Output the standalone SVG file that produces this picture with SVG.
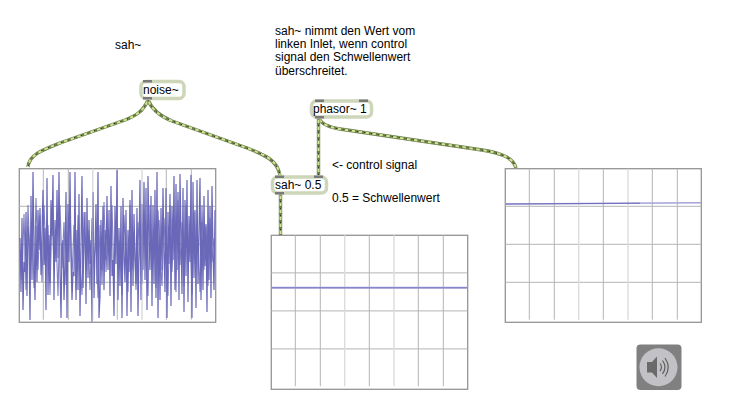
<svg xmlns="http://www.w3.org/2000/svg" width="730" height="409" viewBox="0 0 730 409">
<defs>
<style>
text{font-family:"Liberation Sans",Arial,sans-serif;font-size:12px;fill:#000}
.box{fill:#fff;stroke:#cdd6b8;stroke-width:3.5}
.port{fill:#7a7a7a}
.frame{fill:#fff;stroke:#949494;stroke-width:1.3}
.grid{stroke:#b4b4b4;stroke-width:1;fill:none}
.soft{stroke:#dcdcdc;stroke-width:1.4;fill:none}
.w1{fill:none;stroke:#6d7f4c;stroke-width:3.4}
.w2{fill:none;stroke:#cfe68f;stroke-width:2;stroke-dasharray:5 2}
.w3{fill:none;stroke:#2e3626;stroke-width:1.4;stroke-dasharray:1.5 5.5}
.sig{fill:none;stroke:#6a68b8;stroke-width:1.200}
.sig2{fill:none;stroke:#6a68b8;stroke-width:1.100;opacity:.85}
</style>
<g id="g1">
<path class="grid" d="M0 37.600H196M0 75.600H196M0 113.600H196M24 0V151M49 0V151M98 0V151M147 0V151M172 0V151"/>
<path class="soft" d="M73.400 0V151M122.700 0V151"/>
</g>
</defs>
<rect width="730" height="409" fill="#fff"/>
<g id="scope1">
<rect class="frame" x="19.300" y="168.700" width="196.400" height="153.600"/>
<use href="#g1" x="19.300" y="168.700"/>
<polyline class="sig" points="20,238 21,292 22,218 23,310 24,262 25,272 26,212 27,296 28,226 29,240 30,320 31,196 32,280 33,172 34,252 35,300 36,226 37,282 38,210 39,250 40,208 41,275 42,234 43,190 44,265 45,228 46,310 47,178 48,295 49,235 50,283 51,200 52,236 53,175 54,300 55,220 56,262 57,190 58,258 59,172 60,268 61,318 62,246 63,240 64,300 65,262 66,192 67,318 68,204 69,262 70,172 71,258 72,300 73,272 74,276 75,172 76,300 77,230 78,290 79,194 80,316 81,246 82,176 83,288 84,244 85,212 86,304 87,198 88,278 89,220 90,264 91,240 92,322 93,192 94,298 95,250 96,204 97,284 98,172 99,318 100,296 101,220 102,270 103,206 104,290 105,230 106,260 107,196 108,270 109,210 110,296 111,186 112,276 113,260 114,316 115,206 116,264 117,170 118,300 119,228 120,286 121,206 122,318 123,198 124,256 125,282 126,210 127,316 128,230 129,272 130,200 131,312 132,190 133,286 134,214 135,256 136,284 137,208 138,316 139,248 140,180 141,300 142,204 143,270 144,182 145,280 146,188 147,310 148,176 149,240 150,270 151,196 152,306 153,205 154,284 155,190 156,298 157,172 158,318 159,220 160,300 161,208 162,270 163,188 164,250 165,292 166,188 167,318 168,212 169,264 170,194 171,306 172,206 173,260 174,176 175,290 176,184 177,270 178,192 179,300 180,174 181,238 182,294 183,188 184,312 185,200 186,276 187,180 188,302 189,216 190,262 191,175 192,318 193,182 194,278 195,210 196,308 197,180 198,284 199,232 200,178 201,300 202,222 203,290 204,196 205,266 206,224 207,312 208,190 209,280 210,206 211,298 212,186 213,252 214,290 215,210"/>
<polyline class="sig2" points="20.500,250 22,280 24,214 26,290 28,205 30,262 32,225 34,288 36,198 38,270 40,215 42,282 44,205 46,260 48,225 50,295 52,210 54,270 56,232 58,296 60,205 62,268 64,222 66,285 68,240 70,205 72,278 74,225 76,290 78,215 80,262 82,295 84,212 86,270 88,230 90,290 92,218 94,262 96,240 98,298 100,225 102,285 104,202 106,272 108,232 110,262 112,205 114,280 116,222 118,268 120,240 122,295 124,215 126,262 128,292 130,205 132,270 134,232 136,290 138,222 140,258 142,284 144,210 146,262 148,296 150,205 152,268 154,230 156,288 158,210 160,255 162,286 164,218 166,262 168,296 170,205 172,272 174,226 176,292 178,200 180,265 182,222 184,286 186,205 188,262 190,230 192,295 194,212 196,265 198,238 200,292 202,205 204,270 206,226 208,286 210,218 212,262 214,238"/>
<path class="soft" d="M92.700 169V322M142 169V322" opacity=".35"/>
</g>
<g id="scope2">
<rect class="frame" x="271.300" y="235.300" width="196.400" height="154"/>
<use href="#g1" x="271.300" y="235.300"/>
<path d="M272 287.700H467" fill="none" stroke="#a3a3d8" stroke-width="2"/>
<path d="M272 287.700H467" fill="none" stroke="#6a68b8" stroke-width=".6"/>
</g>
<g id="scope3">
<rect class="frame" x="505.300" y="168.700" width="196" height="153.600"/>
<use href="#g1" x="505.300" y="168.700"/>
<path d="M506 204L701 202.800" fill="none" stroke="#a3a3d8" stroke-width="1.600"/>
<path d="M506 204L640 203.200" fill="none" stroke="#5f5db4" stroke-width=".8"/>
</g>
<g id="connectors">
<g id="c1"><path class="w1" d="M148 100C143 112 135 116 125 120L60 143C42 150 29 155 28 167"/><path class="w2" d="M148 100C143 112 135 116 125 120L60 143C42 150 29 155 28 167"/><path class="w3" d="M148 100C143 112 135 116 125 120L60 143C42 150 29 155 28 167"/></g>
<g id="c2"><path class="w1" d="M148 100C152 110 160 116 172 121L247 148C265 155 277 160 280 175"/><path class="w2" d="M148 100C152 110 160 116 172 121L247 148C265 155 277 160 280 175"/><path class="w3" d="M148 100C152 110 160 116 172 121L247 148C265 155 277 160 280 175"/></g>
<g id="c3"><path class="w1" d="M319 118C321 124 328 127 340 129L482 150C500 153 513 157 516 168"/><path class="w2" d="M319 118C321 124 328 127 340 129L482 150C500 153 513 157 516 168"/><path class="w3" d="M319 118C321 124 328 127 340 129L482 150C500 153 513 157 516 168"/></g>
<g id="c4"><path class="w1" d="M318.500 118V175"/><path class="w2" d="M318.500 118V175"/><path class="w3" d="M318.500 118V175"/></g>
<g id="c5"><path class="w1" d="M280.500 194V235"/><path class="w2" d="M280.500 194V235"/><path class="w3" d="M280.500 194V235"/></g>
</g>
<g id="noise">
<rect class="box" x="141" y="81.500" width="43" height="17" rx="5"/>
<rect class="port" x="143" y="80" width="9" height="2.500"/><rect class="port" x="143" y="97" width="9" height="2.500"/>
<text x="143" y="94">noise~</text>
</g>
<g id="phasor">
<rect class="box" x="311.500" y="101" width="60" height="16" rx="5"/>
<rect class="port" x="315" y="99.500" width="9" height="2.500"/><rect class="port" x="359" y="99.500" width="9" height="2.500"/><rect class="port" x="315" y="116" width="9" height="2.500"/>
<text x="313" y="113">phasor~ 1</text>
</g>
<g id="sah">
<rect class="box" x="272.500" y="177" width="54" height="16" rx="5"/>
<rect class="port" x="275" y="175.500" width="9" height="2.500"/><rect class="port" x="314" y="175.500" width="9" height="2.500"/><rect class="port" x="275" y="192" width="9" height="2.500"/>
<text x="275" y="189">sah~ 0.5</text>
</g>
<g id="labels">
<text x="115" y="49">sah~</text>
<text x="275" y="35">sah~ nimmt den Wert vom</text>
<text x="275" y="48">linken Inlet, wenn control</text>
<text x="275" y="61">signal den Schwellenwert</text>
<text x="275" y="75">überschreitet.</text>
<text x="332" y="169">&lt;- control signal</text>
<text x="332" y="202">0.5 = Schwellenwert</text>
</g>
<g id="speaker">
<rect x="636.500" y="344.500" width="45" height="45.500" rx="4" fill="#808080"/>
<circle cx="658.500" cy="367.300" r="19" fill="#c2c2c6"/>
<path d="M647 362H652L657 356.500V378L652 372.500H647Z" fill="#6a6a6a"/>
<path d="M660 363.500Q663 367.300 660 371M662.500 360.500Q667.500 367.300 662.500 374M665 358Q671.500 367.300 665 376.500" fill="none" stroke="#5e5e5e" stroke-width="1.200"/>
</g>
</svg>
